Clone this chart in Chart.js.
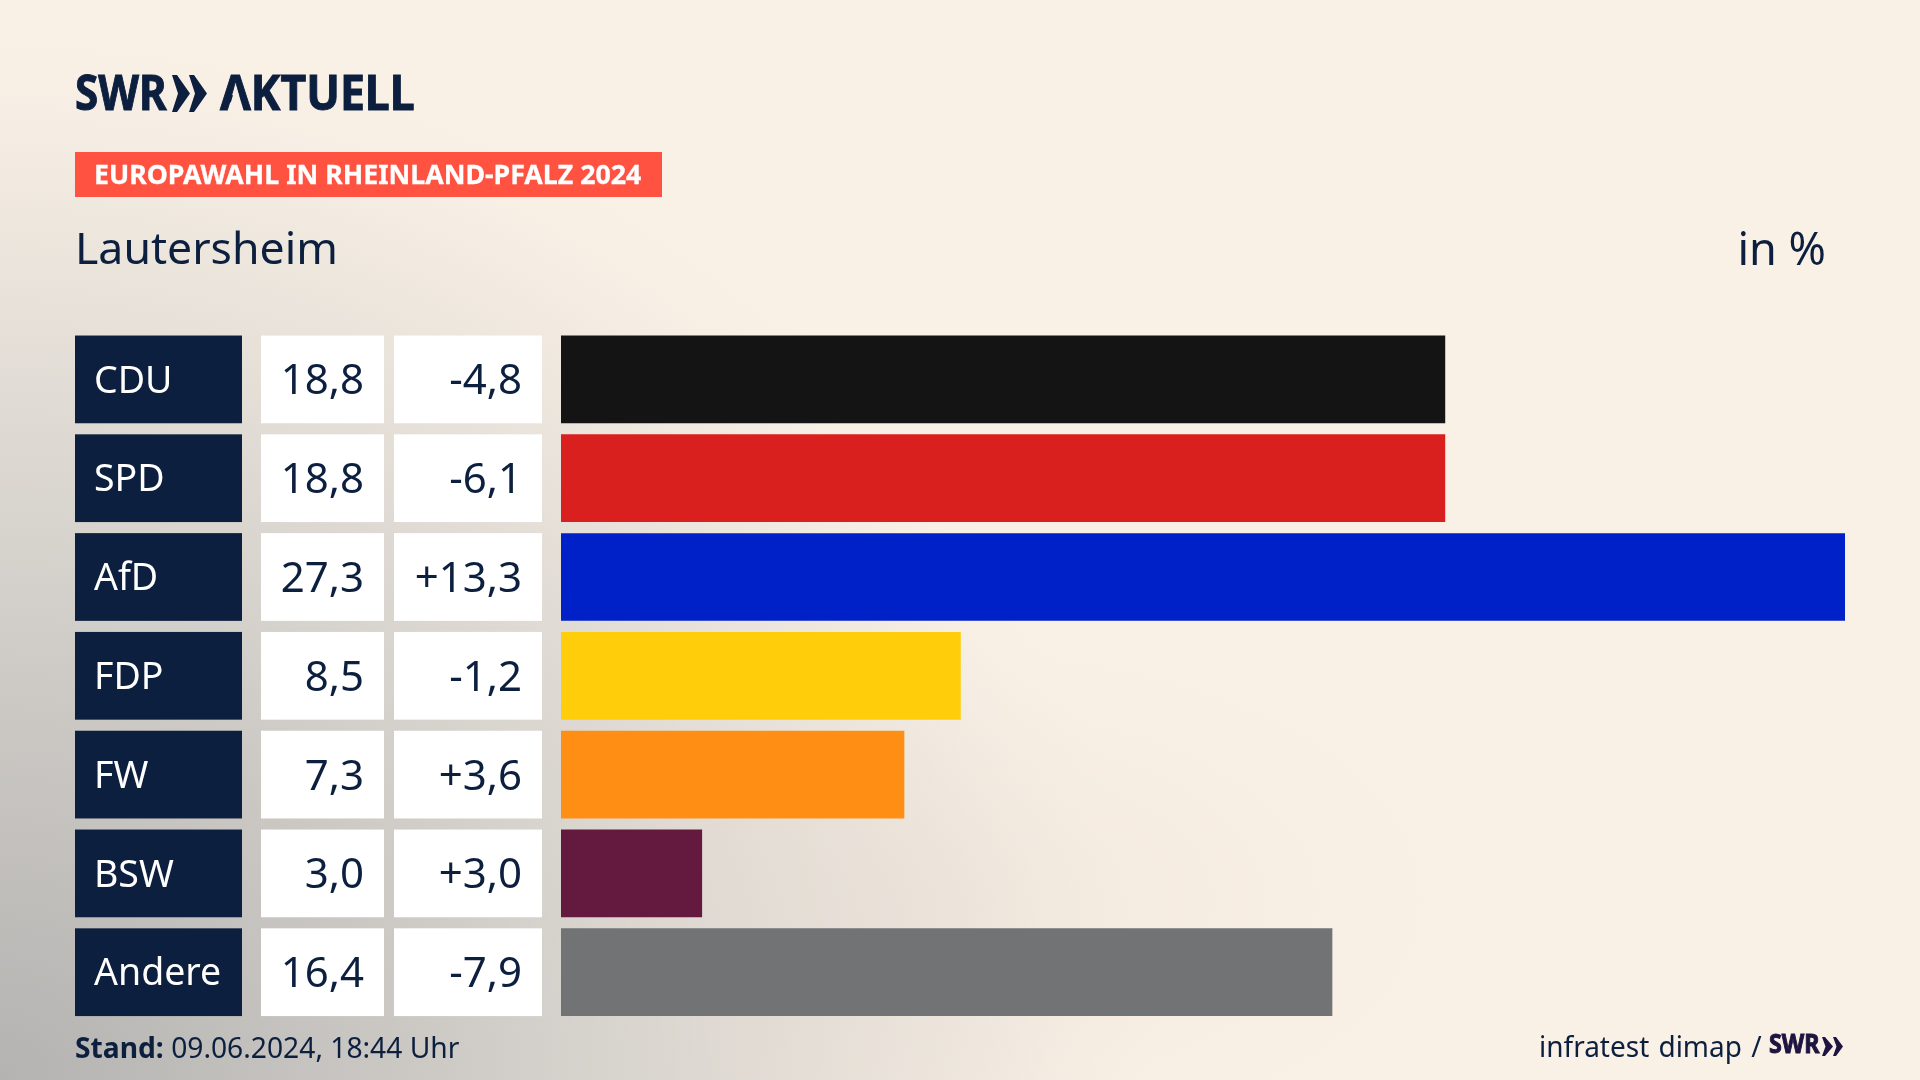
<!DOCTYPE html>
<html>
<head>
<meta charset="utf-8">
<script src="https://cdn.jsdelivr.net/npm/chart.js@4/dist/chart.umd.js"></script>
<style>
html,body{margin:0;padding:0}
body{width:1920px;height:1080px;overflow:hidden;position:relative;color:#0c1f3e;font-family:"Noto Sans",sans-serif;
 background:
  radial-gradient(ellipse 500px 260px at 950px 900px,rgba(226,215,205,.3),rgba(226,215,205,0)),
  radial-gradient(ellipse 1150px 1050px at 0px 1080px,#b4b3b1 0%,#cbc8c4 35%,#e0dbd4 65%,#f6eee4 92%,#faf1e6 100%),
  #faf1e6;}
canvas{position:absolute;left:0;top:0}
.t{position:absolute;white-space:nowrap;line-height:1}
.logo{font-weight:700;transform-origin:0 0;-webkit-text-stroke:1px currentColor}
#tag{position:absolute;left:75px;top:152px;width:587px;height:45px;background:#ff5240}
</style>
</head>
<body>
<canvas id="myChart" width="1920" height="1080"></canvas>

<div class="t logo" style="left:75px;top:67px;font-size:49px;transform:scaleX(.86)">SWR</div>
<div class="t logo" style="left:220px;top:67px;font-size:49px;transform:scaleX(.91)">AKTUELL</div>
<div class="t logo" style="left:1769px;top:1029px;font-size:27px;color:#1d1540;transform:scaleX(.86)">SWR</div>
<svg style="position:absolute;left:0;top:0" width="1920" height="1080">
 <polygon fill="#0c1f3e" points="172,75 177,75 190,93.5 177,112 172,112 178,93.5"/>
 <polygon fill="#0c1f3e" points="189,75 194,75 207,93.5 194,112 189,112 195,93.5"/>
 <polygon fill="#f8f0e6" points="236,85 228,112 244,112"/>
 <polygon fill="#1d1540" points="1822,1037 1825,1037 1833,1046.5 1825,1056 1822,1056 1825.5,1046.5"/>
 <polygon fill="#1d1540" points="1833,1037 1836,1037 1843,1046.5 1836,1056 1833,1056 1836.5,1046.5"/>
</svg>

<div id="tag"></div>
<div class="t" style="left:94px;top:160px;font-size:27px;font-weight:700;color:#fff;-webkit-text-stroke:.3px #fff;transform-origin:0 0;transform:scaleX(.99)">EUROPAWAHL IN RHEINLAND-PFALZ 2024</div>
<div class="t" style="left:75px;top:225px;font-size:44.6px">Lautersheim</div>
<div class="t" style="right:94px;top:225px;font-size:45px">in %</div>
<div class="t" style="left:75px;top:1032px;font-size:29px;transform-origin:0 0;transform:scaleX(.973)"><b>Stand:</b> 09.06.2024, 18:44 Uhr</div>
<div class="t" style="left:1539px;top:1031px;font-size:29px;word-spacing:2px;transform-origin:0 0;transform:scaleX(.965)">infratest dimap /</div>

<script>
var parties = ['CDU','SPD','AfD','FDP','FW','BSW','Andere'];
var shares = [18.8,18.8,27.3,8.5,7.3,3.0,16.4];
var changes = [-4.8,-6.1,13.3,-1.2,3.6,3.0,-7.9];
var barColors = ['#141414','#d9201f','#0021c8','#ffcd0a','#ff8f14','#64193f','#727375'];

function fmt(v){
    return v.toFixed(1).replace('.',',');
}
function fmtChange(v){
    return (v>0?'+':'')+fmt(v);
}

// the three table columns left of the bars, lined up on the y scale
var tableCells = {
    id:'tableCells',
    beforeDraw:function(chart){
        var ctx = chart.ctx, y = chart.scales.y;
        var h = y.height/parties.length*0.888;
        ctx.save();
        parties.forEach(function(p,i){
            var mid = y.getPixelForValue(i);
            ctx.fillStyle = '#0c1f3e';
            ctx.fillRect(75,mid-h/2,167,h);
            ctx.fillStyle = '#fff';
            ctx.fillRect(261,mid-h/2,123,h);
            ctx.fillRect(394,mid-h/2,148,h);
        });
        ctx.restore();
    },
    afterDraw:function(chart){
        var ctx = chart.ctx, y = chart.scales.y;
        ctx.save();
        ctx.font = '42px "Noto Sans"';
        ctx.fillStyle = '#0c1f3e';
        ctx.textAlign = 'right';
        ctx.textBaseline = 'middle';
        parties.forEach(function(p,i){
            var mid = y.getPixelForValue(i)+3;
            ctx.fillText(fmt(shares[i]),364,mid);
            ctx.fillText(fmtChange(changes[i]),522,mid);
        });
        ctx.restore();
    }
};

var ctx = document.getElementById('myChart').getContext('2d');
var chart = new Chart(ctx, {
    type:'bar',
    data:{
        labels:parties,
        datasets:[{data:shares,backgroundColor:barColors,barPercentage:0.888,categoryPercentage:1}]
    },
    options:{
        indexAxis:'y',
        responsive:false,
        animation:false,
        layout:{padding:{left:94,right:75,top:330,bottom:58.4}},
        plugins:{legend:{display:false},tooltip:{enabled:false}},
        scales:{
            x:{display:false,min:0,max:27.3},
            y:{
                grid:{display:false},
                border:{display:false},
                afterFit:function(s){s.width=467;},
                ticks:{color:'#fff',crossAlign:'far',labelOffset:2.5,font:{family:'"Noto Sans"',size:37.5}}
            }
        }
    },
    plugins:[tableCells]
});
</script>
</body>
</html>
